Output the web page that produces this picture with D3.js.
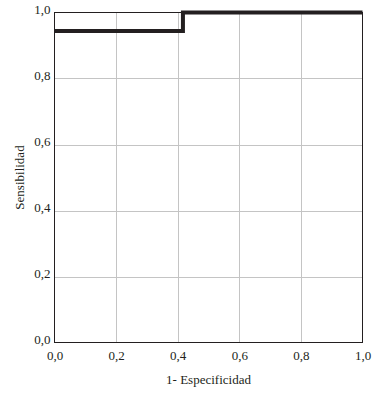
<!DOCTYPE html>
<html><head><meta charset="utf-8">
<script src="https://cdn.jsdelivr.net/npm/d3@7"></script>
<style>body{margin:0;background:#fff}svg{display:block}text{font-family:"Liberation Serif","DejaVu Serif",serif;fill:#231f20}</style>
</head><body>
<svg id="c" width="381" height="394"></svg>
<script>
const fpr = [0, 0.417, 0.417, 1];
const tpr = [0.944, 0.944, 1, 1];
const ticks = [0, 0.2, 0.4, 0.6, 0.8, 1.0];
const xTitle = "1- Especificidad";
const yTitle = "Sensibilidad";

const m = {l:54.5, r:362.5, t:12.5, b:342.5};
const svg = d3.select("#c");
const x = d3.scaleLinear().domain([0,1]).range([m.l, m.r]);
const y = d3.scaleLinear().domain([0,1]).range([m.b, m.t]);
const fmt = d => d.toFixed(1).replace(".", ",");

// grid
svg.append("g").selectAll("line").data(ticks.slice(1,-1)).join("line")
  .attr("x1", d=>Math.round(x(d))+0.5).attr("x2", d=>Math.round(x(d))+0.5).attr("y1", m.t).attr("y2", m.b)
  .attr("stroke", "#c4c4c4").attr("stroke-width", 1);
svg.append("g").selectAll("line").data(ticks.slice(1,-1)).join("line")
  .attr("x1", m.l).attr("x2", m.r).attr("y1", d=>Math.round(y(d))+0.5).attr("y2", d=>Math.round(y(d))+0.5)
  .attr("stroke", "#c4c4c4").attr("stroke-width", 1);

// frame
svg.append("rect").attr("x", m.l).attr("y", m.t).attr("width", m.r-m.l).attr("height", m.b-m.t)
  .attr("fill", "none").attr("stroke", "#231f20").attr("stroke-width", 1);

// axes labels
const xa = d3.axisBottom(x).tickValues(ticks).tickFormat(fmt).tickSize(0).tickPadding(8);
const gx = svg.append("g").attr("transform", `translate(0,${m.b})`).call(xa);
gx.select(".domain").remove();
gx.selectAll("text").attr("font-size", 13).style("font-family", '"Liberation Serif",serif').attr("fill", "#231f20");

const ya = d3.axisLeft(y).tickValues(ticks).tickFormat(fmt).tickSize(0).tickPadding(4);
const gy = svg.append("g").attr("transform", `translate(${m.l},0)`).call(ya);
gy.select(".domain").remove();
gy.selectAll("text").attr("font-size", 13).attr("dy", "0.1em").style("font-family", '"Liberation Serif",serif').attr("fill", "#231f20");

// ROC step line
const pts = fpr.map((d,i)=>[d, tpr[i]]);
svg.append("path").datum(pts)
  .attr("d", d3.line().x(d=>x(d[0])).y(d=>y(d[1])))
  .attr("fill", "none").attr("stroke", "#231f20").attr("stroke-width", 4).attr("stroke-linejoin", "miter");

// titles
svg.append("text").attr("x", (m.l+m.r)/2).attr("y", 384).attr("text-anchor", "middle")
  .attr("font-size", 13).text(xTitle);
svg.append("text").attr("transform", `translate(24,${(m.t+m.b)/2}) rotate(-90)`).attr("text-anchor", "middle")
  .attr("font-size", 13).text(yTitle);
</script>
</body></html>
